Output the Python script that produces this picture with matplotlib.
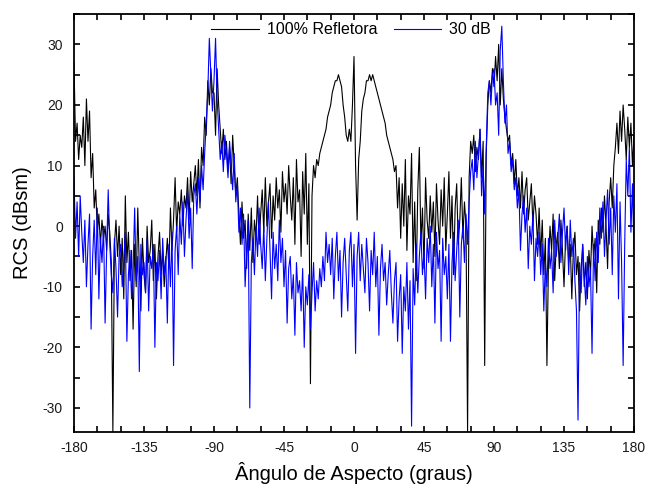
import numpy as np
import matplotlib
matplotlib.use("Agg")
import matplotlib.pyplot as plt
from matplotlib.ticker import MultipleLocator, FuncFormatter

plt.rcParams['font.family'] = ['Liberation Sans', 'DejaVu Sans']

angles = np.arange(-180, 181, 1)

refletora = [
    27, 14, 17, 11, 15, 13, 18, 10, 21, 14,
    19, 8, 12, 3, 6, -1, 2, -3, 1, -2,
    0, -4, 2, -1, -6, -34, -3, 1, -5, 0,
    -8, -2, -12, 5, -6, -1, -9, -4, -17, -3,
    -10, 3, -7, -14, -2, -8, -11, 0, -6, -4,
    1, -9, -3, -12, -5, -1, -8, -4, -10, -6,
    -2, -7, 3, -4, 1, 8, -1, 4, 2, 6,
    0, 5, 3, 8, 1, 9, 4, 7, 10, 5,
    11, 3, 13, 10, 18, 15, 24, 20, 26, 22,
    22, 15, 26, 20, 16, 12, 16, 11, 14, 9,
    13, 7, 15, 10, 5, 8, 2, -3, 4, -2,
    1, -7, 2, -4, 3, -6, 1, -2, 5, -3,
    2, 6, -1, 8, 0, 4, 7, -2, 5, 1,
    8, 3, 6, -1, 9, 4, 7, 2, 10, 5,
    1, 8, -3, 11, 4, 6, -5, 9, 2, 12,
    -3, 7, -26, 5, 10, 8, 11, 10, 12, 13,
    14, 15, 16, 18, 19, 20, 22, 23, 24, 24,
    25, 24, 23, 20, 18, 15, 14, 16, 14, 20,
    28, 10, 1, 11, 14, 19, 21, 22, 24, 24,
    25, 24, 25, 24, 23, 22, 21, 20, 19, 18,
    17, 15, 14, 13, 12, 11, 9, 10, 3, 8,
    -2, 7, 0, 11, -4, 5, 2, 12, -6, 4,
    -9, 6, 13, -3, 3, -7, 8, 1, -2, 5,
    -1, 4, -5, 7, 1, -3, 6, 0, 8, -4,
    2, 9, -2, 5, -8, 3, 7, -3, 1, 8,
    -2, 4, 0, -34, 8, 14, 12, 15, 9, 13,
    11, 16, 8, 14, -23, 12, 20, 24, 22, 26,
    23, 28, 24, 30, 20, 26, 21, 18, 16, 14,
    15, 10, 12, 7, 11, 5, 8, 3, 9, 2,
    6, 8, 1, 4, 7, 0, 5, 2, -3, 3,
    -5, 1, -8, -2, -23, -6, 0, -4, 2, -9,
    -3, -1, -7, 1, -4, -10, -2, 0, -6, -3,
    -12, -4, -1, -8, -5, -14, -7, -3, -10, -6,
    -12, -4, -8, 0, -5, -2, -11, 1, -3, 3,
    -1, 5, 0, -7, 4, 8, 3, 10, 13, 17,
    12, 19, 14, 20, 16, 11, 18, 13, 17, 10,
    15,
]

atenuada_30db = [
    8, -2, 4, -5, 5, -1, -6, 1, -10, -3,
    2, -17, -5, 1, -8, 3, -12, -2, -6, 0,
    -16, -4, 6, -3, -8, -11, -2, -7, -15, -5,
    -3, -10, -6, -1, -19, -8, -4, -12, -7, 3,
    -9, -5, -24, -3, -8, -6, -11, -2, -14, -5,
    -7, -3, -20, -6, -9, -4, -12, -2, -8, -5,
    -16, -3, -10, -1, -23, -4, 0, -8, 2, -3,
    4, -5, 1, 6, -2, 3, -7, 5, 7, 2,
    8, 4, 10, 6, 12, 17, 22, 31, 25, 19,
    24, 31, 21, 16, 11, 14, 9, 15, 12, 8,
    14, 10, 6, 12, 4, 7, -1, 3, -3, 2,
    -10, -4, 1, -30, -6, -2, -8, 0, -5, 3,
    -3, -7, 0, -9, -2, 4, -4, -12, -1, -7,
    -3, -9, 1, -6, -2, -10, -4, -16, -7, -5,
    -12, -8, -18, -6, -11, -9, -14, -7, -20, -10,
    -13, -8, -17, -11, -6, -14, -9, -12, -7, -10,
    -5, -9, -1, -6, -3, -8, -2, -12, -5, -1,
    -9, -4, -15, -6, -2, -8, -14, -4, -1, -10,
    -3, -21, -5, -1, -9, -3, -7, -11, -2, -6,
    -14, -4, -8, -1, -10, -5, -18, -7, -3, -9,
    -6, -13, -8, -4, -11, -16, -9, -6, -19, -12,
    -8, -21, -10, -14, -6, -17, -9, -33, -7, -13,
    -3, -11, -5, -1, -8, -4, -12, -2, -6, 0,
    -10, -3, -16, -1, -7, -4, -19, -2, -8, -5,
    -12, -3, -19, -6, -1, -9, -4, 1, -15, -3,
    0, -6, 2, -3, 4, 9, 11, 6, 14, 8,
    12, 16, 5, 10, 2, 13, 22, 24, 20, 25,
    26, 20, 22, 15, 29, 33, 24, 17, 20, 12,
    14, 9, 11, 6, 8, 3, 6, -4, 2, 5,
    -1, 3, -7, 0, -3, 2, -9, -2, -5, -1,
    -8, -3, -14, -6, -10, -2, -7, -4, -11, 1,
    -5, -2, 2, -6, -1, 3, -4, 0, -8, 1,
    -5, -2, -9, -14, -32, -6, -11, -3, -8, -13,
    -5, -10, -7, -21, -3, -9, -1, -6, 3, -2,
    4, -5, 1, 6, -3, 3, -8, 5, -1, 7,
    -12, 4, -6, -23, -3, 11, 5, 13, -1, 7,
    -5,
]

series_labels = ["100% Refletora", "30 dB"]
x_ticks = [-180, -135, -90, -45, 0, 45, 90, 135, 180]
y_ticks = [-30, -20, -10, 0, 10, 20, 30]

fig = plt.figure(figsize=(6.45, 4.86), dpi=100)
ax = fig.add_axes([0.1147, 0.112, 0.8683, 0.859])

ax.plot(angles, refletora, color='black', lw=0.8, label=series_labels[0])
ax.plot(angles, atenuada_30db, color='#0000ff', lw=0.8, label=series_labels[1])

ax.set_xlim(-180, 180)
ax.set_ylim(-33.9, 35.0)

ax.xaxis.set_major_locator(MultipleLocator(15))
ax.yaxis.set_major_locator(MultipleLocator(5))
ax.xaxis.set_major_formatter(FuncFormatter(lambda v, p: f"{int(round(v))}" if int(round(v)) in x_ticks else ""))
ax.yaxis.set_major_formatter(FuncFormatter(lambda v, p: f"{int(round(v))}" if int(round(v)) in y_ticks else ""))
ax.tick_params(direction='in', top=True, right=True, length=4, width=1.2,
               labelsize=10, labelcolor='#1a1a1a')
ax.tick_params(axis='x', pad=7)
ax.tick_params(axis='y', pad=8)
for s in ax.spines.values():
    s.set_linewidth(1.3)

ax.set_xlabel("Ângulo de Aspecto (graus)", fontsize=14.5, labelpad=5)
ax.set_ylabel("RCS (dBsm)", fontsize=14.5, labelpad=8)

ax.legend(loc='center', bbox_to_anchor=(0.495, 0.962), ncol=2, frameon=False,
          handlelength=3.0, handletextpad=0.5, columnspacing=1.0,
          prop={'size': 11.5})

fig.savefig("out.png", dpi=100)
